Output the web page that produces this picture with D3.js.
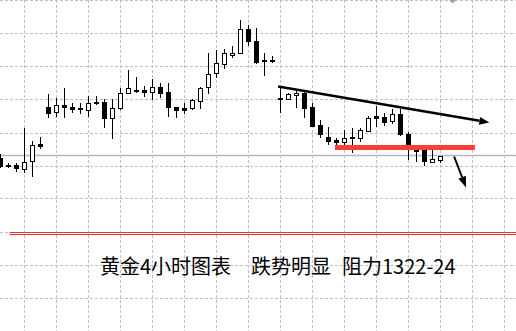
<!DOCTYPE html>
<html>
<head>
<meta charset="utf-8">
<script src="https://cdn.jsdelivr.net/npm/d3@7"></script>
<style>
  body { margin: 0; background: #fff; }
  svg { display: block; }
</style>
</head>
<body>
<script>
var width = 516, height = 331;

// 4h candles, left to right (index = bar number)
var opens  = [1320.0,1318.6,1318.6,1317.9,1319.3,1322.8,1330.2,1329.1,1330.5,1330.2,1330.0,1329.5,1331.2,1331.2,1327.9,1329.9,1332.9,1333.5,1333.6,1333.3,1334.2,1333.2,1330.3,1329.9,1329.9,1331.6,1334.1,1336.9,1338.9,1340.5,1340.9,1345.7,1343.4,1339.6,1339.6,1331.9,1331.8,1332.5,1333.1,1330.2,1326.6,1324.3,1323.6,1323.2,1324.2,1324.0,1325.5,1328.4,1328.3,1327.3,1328.7,1324.7,1321.6,1321.5,1319.3,1319.6];
var highs  = [1320.8,1319.1,1319.0,1325.9,1323.4,1324.2,1332.8,1332.1,1334.1,1331.1,1331.1,1332.4,1332.4,1331.7,1331.7,1334.0,1337.6,1336.2,1334.4,1335.8,1334.9,1335.0,1330.3,1331.1,1331.7,1334.3,1340.9,1341.5,1341.8,1342.4,1347.6,1346.5,1346.1,1341.1,1340.3,1334.3,1332.9,1333.4,1333.4,1330.9,1327.6,1326.3,1323.9,1325.6,1325.9,1326.1,1328.4,1330.4,1329.0,1329.7,1329.8,1325.3,1322.5,1322.6,1321.5,1320.4];
var lows   = [1318.0,1318.0,1317.3,1317.1,1316.3,1321.7,1328.1,1328.3,1328.1,1329.1,1328.7,1328.3,1330.5,1326.1,1323.7,1329.5,1332.7,1333.0,1332.3,1331.5,1331.9,1328.3,1327.9,1328.7,1329.6,1329.7,1332.7,1336.1,1337.7,1339.9,1340.9,1342.3,1338.8,1336.3,1339.0,1329.1,1331.7,1330.0,1327.9,1326.5,1323.9,1322.6,1321.7,1322.6,1321.1,1323.2,1325.5,1326.3,1326.4,1326.7,1324.4,1319.6,1319.3,1318.5,1319.3,1318.9];
var closes = [1318.5,1318.5,1317.9,1319.3,1322.5,1322.4,1329.1,1330.5,1330.1,1329.7,1329.7,1330.9,1330.9,1327.9,1329.9,1333.0,1333.9,1333.4,1333.2,1334.2,1333.1,1330.3,1329.7,1329.6,1331.6,1334.1,1336.7,1338.9,1341.1,1341.0,1345.7,1343.3,1339.3,1339.3,1339.3,1331.7,1332.7,1332.9,1330.1,1326.5,1324.7,1323.4,1323.2,1323.9,1323.9,1325.5,1328.1,1328.1,1327.2,1328.7,1324.8,1322.6,1321.4,1319.3,1319.8,1320.4];

// grid levels (price) and time grid (bar index)
var gridPrices = [1351.5,1344.9,1338.3,1331.7,1325.1,1318.5,1311.9,1305.3,1298.7,1292.1,1285.5];
var gridBars = [3,7,11,15,19,23,27,31,35,39,43,47,51,55,59,63];

// drawn objects
var supportLine = {price: 1305.0, from: 1.2, to: 64.4};
var resistLine = {price: 1322.1, from: 41.8, to: 59.3};
var trendArrow = {x1: 34.7, y1: 1334.3, x2: 61.1, y2: 1327.1};
var downArrow = {x1: 56.7, y1: 1320.3, x2: 58.2, y2: 1314.1};
var title = ["黄金4小时图表", "跌势明显", "阻力1322-24"];

var x = d3.scaleLinear().domain([0, 64]).range([0.5, 512.5]);
var y = d3.scaleLinear().domain([1351.6, 1285.4]).range([0, 331]);

var svg = d3.select("body").append("svg")
    .attr("width", width)
    .attr("height", height);

svg.append("rect").attr("width", width).attr("height", height).attr("fill", "#fff");

var grid = svg.append("g")
    .attr("stroke", "#c0c0c0")
    .attr("stroke-width", 1)
    .attr("stroke-dasharray", "3,2");

grid.selectAll("line.h")
    .data(gridPrices)
  .enter().append("line")
    .attr("class", "h")
    .attr("x1", 0).attr("x2", width)
    .attr("y1", function(d) { return Math.round(y(d)) + 0.5; })
    .attr("y2", function(d) { return Math.round(y(d)) + 0.5; });

grid.selectAll("line.v")
    .data(gridBars)
  .enter().append("line")
    .attr("class", "v")
    .attr("y1", 0).attr("y2", height)
    .attr("x1", function(d) { return x(d); })
    .attr("x2", function(d) { return x(d); });

// last price line
var last = closes[closes.length - 1];
svg.append("line")
    .attr("x1", 0).attr("x2", width)
    .attr("y1", Math.round(y(last)) - 0.5)
    .attr("y2", Math.round(y(last)) - 0.5)
    .attr("stroke", "#b8b8b8")
    .attr("stroke-width", 1.5);

// candles
var bars = d3.range(opens.length);
var candle = svg.append("g").selectAll("g")
    .data(bars)
  .enter().append("g");

candle.append("line")
    .attr("x1", function(i) { return x(i); })
    .attr("x2", function(i) { return x(i); })
    .attr("y1", function(i) { return Math.round(y(highs[i])); })
    .attr("y2", function(i) { return Math.round(y(lows[i])); })
    .attr("stroke", "#000");

candle.append("rect")
    .attr("x", function(i) { return x(i) - 2; })
    .attr("width", 4)
    .attr("y", function(i) { return Math.round(y(Math.max(opens[i], closes[i]))) + 0.5; })
    .attr("height", function(i) {
        return Math.max(1, Math.round(Math.abs(y(opens[i]) - y(closes[i]))));
    })
    .attr("fill", function(i) { return closes[i] > opens[i] ? "#fff" : "#000"; })
    .attr("stroke", "#000");

// support level (thin double red)
svg.append("rect")
    .attr("x", x(supportLine.from))
    .attr("width", x(supportLine.to) - x(supportLine.from))
    .attr("y", Math.round(y(supportLine.price)) - 0.5)
    .attr("height", 2)
    .attr("fill", "#fff")
    .attr("stroke", "#f03030");

// resistance bar
svg.append("line")
    .attr("x1", x(resistLine.from)).attr("x2", x(resistLine.to))
    .attr("y1", y(resistLine.price)).attr("y2", y(resistLine.price))
    .attr("stroke", "#ff3c3c")
    .attr("stroke-width", 5);

// arrows
function arrow(a, lw, headLen, headW) {
    var x1 = x(a.x1), y1 = y(a.y1), x2 = x(a.x2), y2 = y(a.y2);
    var ang = Math.atan2(y2 - y1, x2 - x1);
    var bx = x2 - headLen * Math.cos(ang), by = y2 - headLen * Math.sin(ang);
    svg.append("line")
        .attr("x1", x1).attr("y1", y1)
        .attr("x2", bx).attr("y2", by)
        .attr("stroke", "#000")
        .attr("stroke-width", lw);
    var px = Math.sin(ang) * headW / 2, py = -Math.cos(ang) * headW / 2;
    svg.append("path")
        .attr("d", "M" + x2 + "," + y2 + "L" + (bx + px) + "," + (by + py) +
                   "L" + (bx - px) + "," + (by - py) + "Z")
        .attr("fill", "#000");
}
arrow(trendArrow, 2.5, 10, 8);
arrow(downArrow, 2, 11, 8);

// shift marker at top
svg.append("path")
    .attr("d", "M449,0L456,0L452.5,3.5Z")
    .attr("fill", "#a0a0a0");

// caption
var t = svg.append("text")
    .attr("y", 274)
    .attr("font-family", "'Noto Sans CJK SC', sans-serif")
    .attr("font-size", 20)
    .attr("fill", "#000");
var tx = [100, 251, 342];
t.selectAll("tspan")
    .data(title)
  .enter().append("tspan")
    .attr("x", function(d, i) { return tx[i]; })
    .text(function(d) { return d; });
</script>
</body>
</html>
